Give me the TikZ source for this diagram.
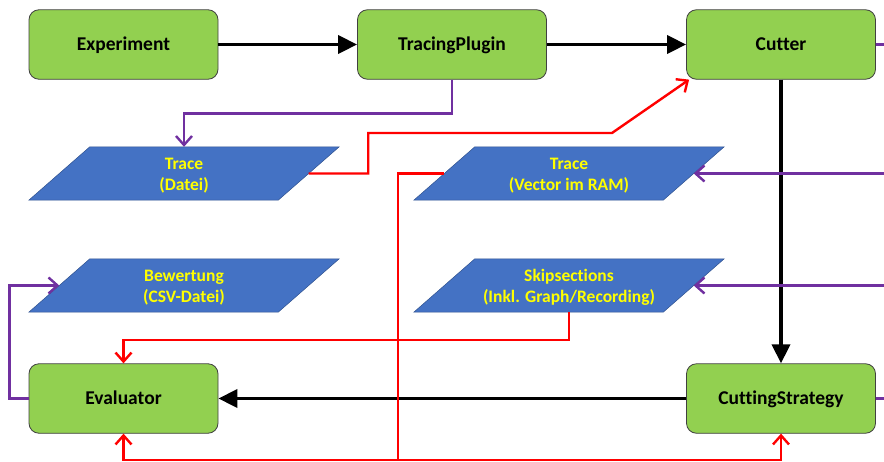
\documentclass[tikz,border=0pt]{standalone}
\usepackage{fontspec}
\setmainfont[Ligatures=NoCommon]{Carlito}
\usetikzlibrary{arrows.meta,calc}
\definecolor{boxgreen}{HTML}{92D050}
\definecolor{pblue}{HTML}{4472C4}
\definecolor{pedge}{HTML}{2F528F}
\definecolor{purp}{HTML}{7030A0}
\definecolor{ared}{HTML}{FF0000}
\definecolor{ytext}{HTML}{FFFF00}
\pgfdeclarelayer{bg}
\pgfsetlayers{bg,main}
\newcommand\twolines[2]{\raisebox{-2pt}[\height][\depth]{\begin{tabular}{@{}c@{}}#1\\#2\end{tabular}}}
\begin{document}
\begin{tikzpicture}[x=1pt,y=-1pt,
 greenbox/.style={draw=black!75, line width=0.8pt, fill=boxgreen, rounded corners=10pt, minimum width=189pt, minimum height=69.5pt, inner sep=0pt, text height=15pt, text depth=3pt, font=\fontsize{19.5}{22}\selectfont\bfseries},
 databox/.style={minimum width=249pt, minimum height=53pt, inner sep=0pt, align=center, text=ytext, font=\fontsize{17.5}{21.5}\selectfont\bfseries},
 pgram/.style={fill=pblue, draw=pedge, line width=0.5pt},
 flow/.style={line width=3.6pt, -{Triangle[length=19pt,width=18pt]}},
 redline/.style={draw=ared, line width=2.4pt},
 purpline/.style={draw=purp, line width=2.4pt},
 barb/.style={-{Straight Barb[length=9pt,width=16pt]}}
]
\useasboundingbox (0,0) rectangle (884,461);
\clip (0,0) rectangle (884,461);

% process boxes
\node[greenbox] (exp)  at (123.5,44.5) {Experiment};
\node[greenbox] (tp)   at (452,44.5)   {TracingPlugin};
\node[greenbox] (cut)  at (781,44.5)   {Cutter};
\node[greenbox] (eval) at (123.5,398.5) {Evaluator};
\node[greenbox] (cs)   at (781,398.5)  {CuttingStrategy};

% data boxes
\node[databox] (trd)  at (184,173.5) {\twolines{Trace}{(Datei)}};
\node[databox] (trv)  at (569,173.5) {\twolines{Trace}{(Vector im RAM)}};
\node[databox] (bew)  at (184,285.5) {\twolines{Bewertung}{(CSV-Datei)}};
\node[databox] (skip) at (569,285.5) {\twolines{Skipsections}{(Inkl. Graph/Recording)}};

\begin{pgfonlayer}{bg}
\foreach \n in {trd,trv,bew,skip}
  \path[pgram] ($(\n.south west)+(-30.5,0)$) -- ($(\n.south east)+(-30.5,0)$)
     -- ($(\n.north east)+(30.5,0)$) -- ($(\n.north west)+(30.5,0)$) -- cycle;
\end{pgfonlayer}

% black flow
\draw[flow] (exp.east) -- (tp.west);
\draw[flow] (tp.east) -- (cut.west);
\draw[flow] (cut.south) -- (cs.north);
\draw[flow] (cs.west) -- (eval.east);

% purple connectors
\draw[purpline,barb] (tp.south) -- ++(0,34) -| (trd.north);
\draw[purpline,barb] (cut.east) -- ++(24,0) |- (trv.east);
\draw[purpline,barb] (cs.east) -- ++(24,0) |- (skip.east);
\draw[purpline,barb] (eval.west) -- ++(-19,0) |- (bew.west);

% red connectors
\coordinate (rb) at (398,460);
\draw[redline,barb] (trd.east) -- ++(59.5,0) -- ++(0,-40.5) -- (612,133) -- ($(cut.south west)+(3,0)$);
\draw[redline,barb] (trv.west) -| (rb) -| (eval.south);
\draw[redline,barb] (rb) -| (cs.south);
\draw[redline,barb] (skip.south) -- ++(0,28) -| (eval.north);
\end{tikzpicture}
\end{document}
